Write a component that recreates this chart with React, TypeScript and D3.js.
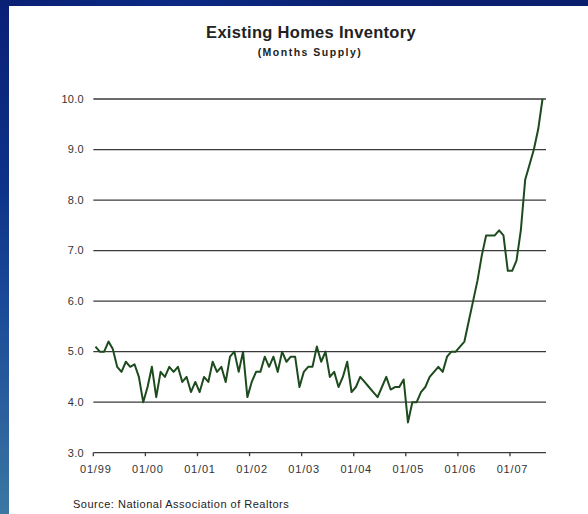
import React from "react";
import * as d3 from "d3";

const values: number[] = [
  5.1, 5.0, 5.0, 5.2, 5.05, 4.7, 4.6, 4.8, 4.7, 4.75, 4.5, 4.0,
  4.3, 4.7, 4.1, 4.6, 4.5, 4.7, 4.6, 4.7, 4.4, 4.5, 4.2, 4.4,
  4.2, 4.5, 4.4, 4.8, 4.6, 4.7, 4.4, 4.9, 5.0, 4.6, 5.0, 4.1,
  4.4, 4.6, 4.6, 4.9, 4.7, 4.9, 4.6, 5.0, 4.8, 4.9, 4.9, 4.3,
  4.6, 4.7, 4.7, 5.1, 4.8, 5.0, 4.5, 4.6, 4.3, 4.5, 4.8, 4.2,
  4.3, 4.5, 4.4, 4.3, 4.2, 4.1, 4.3, 4.5, 4.25, 4.3, 4.3, 4.45,
  3.6, 4.0, 4.0, 4.2, 4.3, 4.5, 4.6, 4.7, 4.6, 4.9, 5.0, 5.0,
  5.1, 5.2, 5.6, 6.0, 6.4, 6.9, 7.3, 7.3, 7.3, 7.4, 7.3, 6.6,
  6.6, 6.8, 7.4, 8.4, 8.7, 9.0, 9.4, 10.0,
];

const xTickLabels: string[] = ["01/99", "01/00", "01/01", "01/02", "01/03", "01/04", "01/05", "01/06", "01/07"];
const yTicks: number[] = [3, 4, 5, 6, 7, 8, 9, 10];

const title = "Existing Homes Inventory";
const subtitle = "(Months Supply)";
const source = "Source: National Association of Realtors";

export default function App() {
  const W = 588;
  const H = 514;
  const x = d3.scaleLinear().domain([0, 104.3]).range([93.3, 546]);
  const y = d3.scaleLinear().domain([3, 10]).range([452.7, 99]);

  const line = d3
    .line<number>()
    .x((_, i) => x(i + 0.5))
    .y((d) => y(d))
    .curve(d3.curveLinear);

  const font = "'Liberation Sans', Arial, Helvetica, sans-serif";

  return (
    <div style={{ position: "fixed", left: 0, top: 0, width: W, height: H }}>
      <svg width={W} height={H} style={{ display: "block" }}>
        <defs>
          <linearGradient id="leftBlue" x1="0" y1="0" x2="0" y2="1">
            <stop offset="0" stopColor="#0a2076" />
            <stop offset="0.35" stopColor="#0c3187" />
            <stop offset="0.6" stopColor="#1b4b98" />
            <stop offset="0.8" stopColor="#2b5f9d" />
            <stop offset="1" stopColor="#3a78a3" />
          </linearGradient>
          <linearGradient id="topBlue" x1="0" y1="0" x2="1" y2="0">
            <stop offset="0" stopColor="#0a2074" />
            <stop offset="0.3" stopColor="#0b2a84" />
            <stop offset="0.6" stopColor="#0a2172" />
            <stop offset="1" stopColor="#0a1f6c" />
          </linearGradient>
        </defs>
        <rect x={0} y={0} width={W} height={H} fill="#ffffff" />
        <rect x={0} y={0} width={9} height={H} fill="url(#leftBlue)" />
        <rect x={0} y={0} width={W} height={6} fill="url(#topBlue)" />

        <text x={311} y={38} textAnchor="middle" fontFamily={font} fontWeight="bold" fontSize={16.5} letterSpacing={0.3} fill="#222">
          {title}
        </text>
        <text x={310} y={56} textAnchor="middle" fontFamily={font} fontWeight="bold" fontSize={10.5} letterSpacing={1.5} fill="#222">
          {subtitle}
        </text>

        {yTicks.map((t) => (
          <g key={t}>
            <line x1={x(0)} x2={546} y1={y(t)} y2={y(t)} stroke="#3a3a3a" strokeWidth={1.3} />
            <text x={84} y={y(t)} dy="0.35em" textAnchor="end" fontFamily={font} fontSize={11} letterSpacing={0.3} fill="#333">
              {t.toFixed(1)}
            </text>
          </g>
        ))}

        {xTickLabels.map((lab, k) => (
          <g key={lab}>
            <line x1={x(k * 12)} x2={x(k * 12)} y1={y(3)} y2={y(3) + 3.5} stroke="#3a3a3a" strokeWidth={1.3} />
            <text x={x(k * 12) + 2.5} y={473} textAnchor="middle" fontFamily={font} fontSize={11} letterSpacing={0.8} fill="#333">
              {lab}
            </text>
          </g>
        ))}

        <path d={line(values) || ""} fill="none" stroke="#1d4b1d" strokeWidth={2} strokeLinejoin="round" />

        <text x={73} y={508} fontFamily={font} fontSize={11} letterSpacing={0.5} fill="#222">
          {source}
        </text>
      </svg>
    </div>
  );
}
